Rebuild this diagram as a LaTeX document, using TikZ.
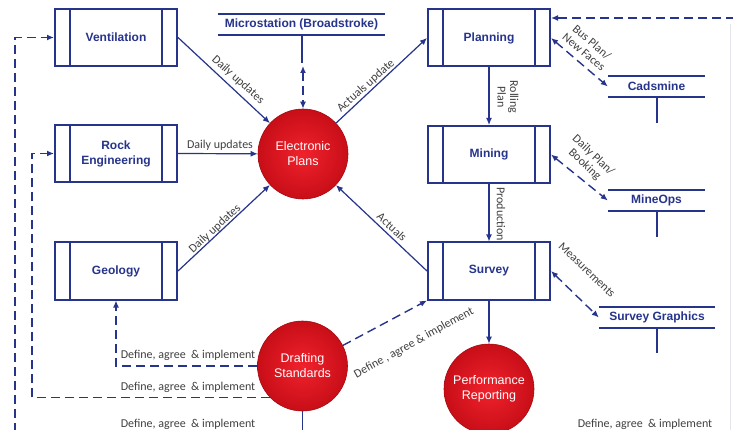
\documentclass[tikz,border=0pt]{standalone}
\usepackage{fontspec}
\setmainfont{Liberation Sans}
\newfontfamily\lblfont{Carlito}
\usetikzlibrary{arrows.meta}
\definecolor{navy}{RGB}{38,52,140}
\definecolor{lblgray}{RGB}{64,64,64}
\definecolor{redin}{RGB}{240,34,44}
\definecolor{redout}{RGB}{200,14,24}
\definecolor{redrim}{RGB}{165,10,18}
\definecolor{edgegray}{RGB}{228,230,236}

\begin{document}
\begin{tikzpicture}[x=1pt,y=-1pt,
  tip/.tip={Latex[length=7pt,width=6pt]},
  procbox/.style={draw=navy, line width=2pt, minimum width=122pt, minimum height=57pt,
    inner sep=0pt, align=center, text=navy, font=\bfseries\fontsize{12}{15}\selectfont,
    path picture={\draw[navy,line width=2pt]
      ([xshift=15pt]path picture bounding box.north west) -- ([xshift=15pt]path picture bounding box.south west)
      ([xshift=-15pt]path picture bounding box.north east) -- ([xshift=-15pt]path picture bounding box.south east);}},
  store/.style={minimum height=21pt, inner sep=0pt, text=navy, font=\bfseries\fontsize{12}{14}\selectfont},
  storeline/.style={draw=navy, line width=2pt},
  ball/.style={circle, minimum size=90pt, inner sep=0pt, inner color=redin, outer color=redout,
    draw=redrim, line width=0.6pt, text=white, align=center, font=\fontsize{12.5}{15}\selectfont},
  flow/.style={draw=navy, line width=1.2pt, -tip},
  dflow/.style={draw=navy, line width=1.4pt, dash pattern=on 9pt off 5pt, -tip},
  bflow/.style={draw=navy, line width=1.4pt, dash pattern=on 9pt off 5pt, tip-tip},
  lbl/.style={font=\lblfont\fontsize{12}{12.5}\selectfont, text=lblgray, inner sep=1pt, align=center}]

\path[use as bounding box, fill=white] (0,0) rectangle (733,430);
\draw[edgegray, line width=0.8pt] (730,24) -- (730,430);

% processes
\node[procbox] (vent) at (116,37.5) {Ventilation};
\node[procbox] (rock) at (116,153.5) {Rock\\Engineering};
\node[procbox] (geo)  at (116,271) {Geology};
\node[procbox] (plan) at (489,38) {Planning};
\node[procbox] (mine) at (489,154.5) {Mining};
\node[procbox] (surv) at (489,271) {Survey};

% red hubs
\node[ball] (ep) at (303,154) {Electronic\\Plans};
\node[ball] (ds) at (302.5,366) {Drafting\\Standards};
\node[ball] (pr) at (489,389) {Performance\\Reporting};

% data stores
\node[store, minimum width=167pt] (ms)   at (301.5,24.5) {Microstation (Broadstroke)};
\node[store, minimum width=97pt]  (cad)  at (656.5,86.5) {Cadsmine};
\node[store, minimum width=97pt]  (mops) at (656.5,200.5) {MineOps};
\node[store, minimum width=116pt] (sg)   at (657,317.5) {Survey Graphics};
\foreach \s/\l in {ms/28, cad/26, mops/26, sg/25}
  \draw[storeline] (\s.north west) -- (\s.north east) (\s.south west) -- (\s.south east)
                   (\s.south) -- ++(0,\l);

% solid flows
\draw[flow] (vent.east) -- (ep);
\draw[flow] (rock.east) -- (ep);
\draw[flow] (geo.east) -- (ep);
\draw[flow] (ep) -- (plan.west);
\draw[flow] (surv.west) -- (ep);
\draw[flow] (plan.south) -- (mine.north);
\draw[flow] (mine.south) -- (surv.north);
\draw[flow] (surv.south) -- (pr);
\draw[flow,-] (ds.south) -- ++(0,26);

% dashed exchanges
\coordinate (msend) at (303,66);
\draw[bflow] (msend) -- (ep.north);
\draw[bflow] (plan.east) -- (cad.west);
\draw[bflow] (mine.east) -- (mops.west);
\draw[bflow] (surv.east) -- (sg.west);
\coordinate (tr) at (735,18);
\draw[dflow] (tr) -- (tr -| plan.east);
\coordinate (bl) at (15,432);
\draw[dflow] (bl) |- (vent.west);
\coordinate (k2) at (32,397);
\draw[dflow] (ds.224) -- (ds.224 -| k2) |- (rock.west);
\draw[dflow] (ds.west) -| (geo.south);
\draw[dflow] (ds.27) -- (surv.south west);

% labels
\node[lbl, rotate=-42] (l1) at (238,80) {Daily updates};
\node[lbl] (l2) at (220,145) {Daily updates};
\node[lbl, rotate=43] (l3) at (215,229) {Daily updates};
\node[lbl, rotate=42] (l4) at (366,86) {Actuals update};
\node[lbl, rotate=-43] (l5) at (392,227) {Actuals};
\node[lbl, rotate=-90] (l6) at (508,97) {Rolling\\Plan};
\node[lbl, rotate=-90] (l7) at (501,214) {Production};
\node[lbl, rotate=-40] (l8) at (588,47) {Bus Plan/\\New Faces};
\node[lbl, rotate=-43] (l9) at (589,160) {Daily Plan/\\Booking};
\node[lbl, rotate=-44] (l10) at (587,270) {Measurements};
\node[lbl, rotate=29] (l11) at (414,343) {Define , agree \& implement};
\node[lbl] (l12) at (188,355) {Define, agree\ \ \& implement};
\node[lbl] (l13) at (188,387) {Define, agree\ \ \& implement};
\node[lbl] (l14) at (188,424) {Define, agree\ \ \& implement};
\node[lbl] (l15) at (645,424) {Define, agree\ \ \& implement};
\end{tikzpicture}
\end{document}
